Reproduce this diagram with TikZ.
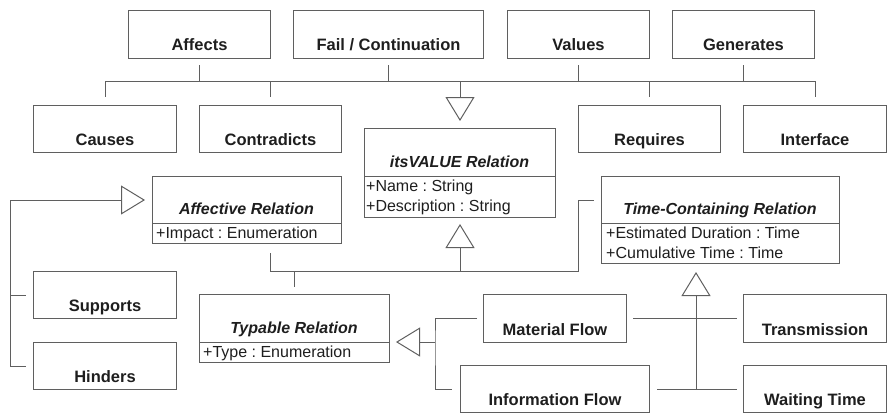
\documentclass[tikz,border=0pt]{standalone}
\usepackage{fontspec}
\setmainfont{Liberation Sans}
\usetikzlibrary{arrows.meta,calc}
\definecolor{linec}{RGB}{95,95,95}
\definecolor{txtc}{RGB}{30,30,30}
\frenchspacing
\newcommand{\ubox}[6]{%
  \node[box, minimum width=#4pt, minimum height=#5pt] (#1) at (#2,#3) {};
  \node[lbl] (#1T) at ([yshift=8pt]#1.south) {#6};}
\begin{document}
\begin{tikzpicture}[x=1pt,y=-1pt,
  box/.style={draw=linec, line width=1pt, rectangle, inner sep=0pt, anchor=north west},
  lbl/.style={anchor=base, inner sep=0pt, text=txtc, font=\fontsize{16.5}{18}\selectfont\bfseries},
  ttl/.style={anchor=base, inner sep=0pt, text=txtc, font=\fontsize{16}{18}\selectfont\bfseries\itshape},
  attr/.style={anchor=base west, inner sep=0pt, text=txtc, font=\fontsize{16}{18}\selectfont\frenchspacing},
  conn/.style={draw=linec, line width=1pt},
  inh/.style={conn, -{Triangle[open, length=24pt, width=29pt, line width=1pt]}},
]
\useasboundingbox (0,0) rectangle (888,413);

% simple boxes
\ubox{affects}{128}{9.5}{142}{48}{Affects}
\ubox{fail}{293}{9.5}{190}{48}{Fail / Continuation}
\ubox{values}{507}{9.5}{142}{48}{Values}
\ubox{generates}{672}{9.5}{142}{48}{Generates}

\ubox{causes}{33}{105}{143}{47}{Causes}
\ubox{contradicts}{199}{105}{142}{47}{Contradicts}
\ubox{requires}{578}{105}{142}{47}{Requires}
\ubox{interface}{743}{105}{143}{47}{Interface}

\ubox{supports}{33}{271}{143}{47}{Supports}
\ubox{hinders}{33}{342}{143}{47}{Hinders}

\ubox{material}{483}{294}{143}{48}{Material Flow}
\ubox{information}{460}{365}{189}{47}{Information Flow}
\ubox{transmission}{743}{294}{143}{48}{Transmission}
\ubox{waiting}{743}{365}{143}{47}{Waiting Time}

% class boxes
\node[box, minimum width=191pt, minimum height=89pt] (itsvalue) at (364,128) {};
\draw[conn] (364,176) -- (555,176);
\node[ttl] (itsvalueT) at (459.5,167) {itsVALUE Relation};
\node[attr] (itsvalueA1) at (366,191) {+Name : String};
\node[attr] (itsvalueA2) at (366,211.5) {+Description : String};

\node[box, minimum width=189pt, minimum height=67pt] (affective) at (152,176) {};
\draw[conn] (152,223) -- (341,223);
\node[ttl] (affectiveT) at (246.5,214) {Affective Relation};
\node[attr] (affectiveA1) at (156,238) {+Impact : Enumeration};

\node[box, minimum width=238pt, minimum height=87pt] (timec) at (601,176) {};
\draw[conn] (601,223) -- (839,223);
\node[ttl] (timecT) at (720,214) {Time-Containing Relation};
\node[attr] (timecA1) at (606,238) {+Estimated Duration : Time};
\node[attr] (timecA2) at (606,258.5) {+Cumulative Time : Time};

\node[box, minimum width=190pt, minimum height=68pt] (typable) at (199,294) {};
\draw[conn] (199,342) -- (389,342);
\node[ttl] (typableT) at (294,333) {Typable Relation};
\node[attr] (typableA1) at (203,357) {+Type : Enumeration};

% top bus
\coordinate (busL) at (0,81);
\draw[conn] (causes.north |- busL) -- (interface.north |- busL);
\foreach \n in {affects,fail,values,generates}
  \draw[conn] ([yshift=-6.5pt]\n.south) -- (\n.south |- busL);
\foreach \n in {causes,contradicts,requires,interface}
  \draw[conn] (\n.north |- busL) -- ([yshift=8pt]\n.north);
\draw[inh] (itsvalue.north |- busL) -- ([yshift=7pt]itsvalue.north);

% middle bus
\coordinate (kneeT) at (578,271);
\coordinate (timeIn) at (594,200);
\draw[conn] ([xshift=23.5pt,yshift=-9pt]affective.south) |- (kneeT) |- (timeIn);
\draw[conn] (typable.north |- kneeT) -- ([yshift=7pt]typable.north);
\draw[inh] (itsvalue.south |- kneeT) -- ([yshift=-6pt]itsvalue.south);

% left
\coordinate (leftX) at (10,200);
\coordinate (affIn) at ($(affective.west |- leftX)+(-7,0)$);
\draw[inh] (leftX) -- (affIn);
\draw[conn] (leftX) |- ([xshift=-7pt]hinders.west);
\draw[conn] (supports.west -| leftX) -- ([xshift=-7pt]supports.west);

% typable
\coordinate (typX) at (435,342);
\coordinate (typIn) at ($(typable.east |- typX)+(6,0)$);
\draw[inh] (typX) -- (typIn);
\draw[conn] ([xshift=-6pt]material.west) -| (typX) |- ([xshift=-8pt]information.west);

% time-containing
\coordinate (timeX) at (696,300);
\coordinate (timeTip) at ($(timec.south -| timeX)+(0,8)$);
\draw[inh] (information.east -| timeX) -- (timeTip);
\draw[conn] ([xshift=6pt]material.east) -- ([xshift=-6pt]transmission.west);
\draw[conn] ([xshift=7pt]information.east) -- ([xshift=-6pt]waiting.west);
\end{tikzpicture}
\end{document}
